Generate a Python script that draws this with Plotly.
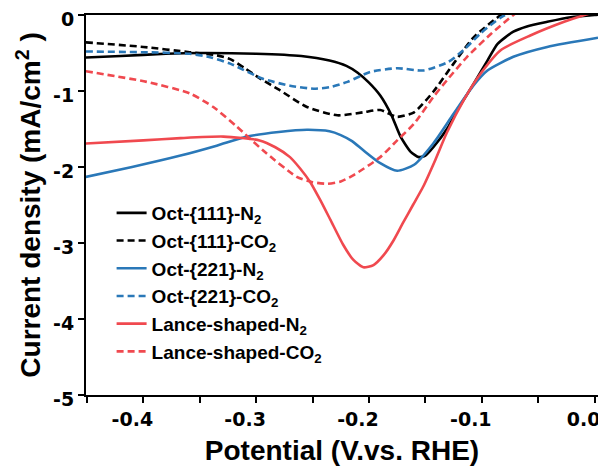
import plotly.graph_objects as go

# ---- data ----
x_oct111_n2 = [-0.451, -0.42, -0.38, -0.35, -0.30, -0.26, -0.235, -0.22, -0.21, -0.20, -0.19, -0.18,
               -0.172, -0.163, -0.156, -0.15, -0.143, -0.13, -0.122, -0.107, -0.095, -0.086,
               -0.072, -0.06, -0.042, -0.021, 0.0, 0.01]
y_oct111_n2 = [-0.56, -0.54, -0.51, -0.50, -0.51, -0.54, -0.60, -0.67, -0.76, -0.89, -1.06, -1.32,
               -1.60, -1.80, -1.87, -1.85, -1.74, -1.48, -1.26, -0.90, -0.60, -0.38,
               -0.22, -0.15, -0.09, -0.03, 0.0, 0.02]

x_oct111_co2 = [-0.451, -0.40, -0.359, -0.335, -0.323, -0.31, -0.296, -0.279, -0.255, -0.228,
                -0.205, -0.190, -0.175, -0.160, -0.143, -0.125, -0.107, -0.083, -0.07]
y_oct111_co2 = [-0.36, -0.42, -0.49, -0.53, -0.58, -0.70, -0.84, -0.99, -1.21, -1.32,
                -1.28, -1.25, -1.34, -1.28, -1.01, -0.64, -0.29, 0.0, 0.1]

x_oct221_n2 = [-0.451, -0.41, -0.367, -0.335, -0.308, -0.28, -0.255, -0.235, -0.225, -0.215,
               -0.205, -0.190, -0.175, -0.160, -0.143, -0.125, -0.107, -0.095, -0.072,
               -0.042, 0.003]
y_oct221_n2 = [-2.13, -2.00, -1.85, -1.72, -1.60, -1.54, -1.51, -1.53, -1.58, -1.66,
               -1.78, -1.95, -2.05, -1.97, -1.69, -1.30, -0.92, -0.73, -0.55,
               -0.42, -0.30]

x_oct221_co2 = [-0.451, -0.40, -0.359, -0.34, -0.323, -0.294, -0.27, -0.249, -0.235, -0.219,
                -0.199, -0.175, -0.152, -0.130, -0.116, -0.101, -0.083, -0.072]
y_oct221_co2 = [-0.48, -0.49, -0.51, -0.56, -0.64, -0.84, -0.93, -0.97, -0.95, -0.88,
                -0.75, -0.70, -0.73, -0.62, -0.46, -0.24, -0.03, 0.05]

x_lance_n2 = [-0.451, -0.40, -0.367, -0.329, -0.297, -0.283, -0.270, -0.261, -0.252, -0.243,
              -0.234, -0.223, -0.214, -0.205, -0.196, -0.187, -0.178, -0.170, -0.161,
              -0.152, -0.141, -0.131, -0.116, -0.101, -0.083, -0.057, -0.027, -0.009, 0.003]
y_lance_n2 = [-1.69, -1.65, -1.62, -1.60, -1.65, -1.74, -1.87, -2.02, -2.20, -2.44,
              -2.70, -3.02, -3.22, -3.32, -3.29, -3.16, -2.96, -2.74, -2.50,
              -2.26, -1.90, -1.55, -1.12, -0.77, -0.46, -0.27, -0.09, 0.0, 0.05]

x_lance_co2 = [-0.451, -0.397, -0.359, -0.338, -0.317, -0.294, -0.264, -0.250, -0.237, -0.225,
               -0.214, -0.190, -0.175, -0.160, -0.143, -0.131, -0.113, -0.092, -0.072, -0.065]
y_lance_co2 = [-0.74, -0.88, -1.03, -1.21, -1.47, -1.78, -2.13, -2.20, -2.22, -2.19,
               -2.11, -1.87, -1.65, -1.43, -1.08, -0.86, -0.55, -0.25, 0.0, 0.08]

x_tickvals = [-0.4, -0.3, -0.2, -0.1, 0.0]
x_ticktext = ["-0.4", "-0.3", "-0.2", "-0.1", "0.0"]
y_tickvals = [0, -1, -2, -3, -4, -5]
y_ticktext = ["0", "-1", "-2", "-3", "-4", "-5"]

BLACK = "#000000"
BLUE = "#2a78b8"
RED = "#f0494f"
FONT = "Arial, Liberation Sans, sans-serif"
TICKFONT = "DejaVu Sans, Arial, sans-serif"

series = [
    ("Oct-{111}-N<sub>2</sub>", x_oct111_n2, y_oct111_n2, BLACK, "solid"),
    ("Oct-{111}-CO<sub>2</sub>", x_oct111_co2, y_oct111_co2, BLACK, "7px,4px"),
    ("Oct-{221}-N<sub>2</sub>", x_oct221_n2, y_oct221_n2, BLUE, "solid"),
    ("Oct-{221}-CO<sub>2</sub>", x_oct221_co2, y_oct221_co2, BLUE, "7px,4px"),
    ("Lance-shaped-N<sub>2</sub>", x_lance_n2, y_lance_n2, RED, "solid"),
    ("Lance-shaped-CO<sub>2</sub>", x_lance_co2, y_lance_co2, RED, "7px,4px"),
]

fig = go.Figure()
for i, (name, xs, ys, col, dash) in enumerate(series):
    fig.add_trace(go.Scatter(
        x=xs, y=ys, mode="lines", name=name, legendgroup=f"g{i}",
        line=dict(color=col, width=2.6, dash=dash, shape="spline", smoothing=0.6),
    ))

# page body adds an 8px offset, so the figure is 598x458 to fill the 606x466 window
fig.update_layout(
    width=598, height=458,
    margin=dict(l=78, r=8, t=7, b=71, autoexpand=False),
    paper_bgcolor="white", plot_bgcolor="white",
    font=dict(family=FONT, color="black"),
    showlegend=True,
    legend=dict(
        x=0.05, y=0.529, xanchor="left", yanchor="top",
        bgcolor="rgba(0,0,0,0)", borderwidth=0,
        font=dict(family=FONT, size=19, color="black", weight="bold"),
        tracegroupgap=0, itemwidth=30,
    ),
)

fig.update_xaxes(
    range=[-0.4508, 0.003], tickvals=x_tickvals, ticktext=x_ticktext, automargin=False,
    ticks="outside", ticklen=6, tickwidth=1.5, tickcolor="black",
    ticklabelshift=-11, ticklabeloverflow="allow",
    minor=dict(dtick=0.05, tick0=0, ticks="outside", ticklen=6, tickwidth=1.5, tickcolor="black"),
    showline=True, linecolor="black", linewidth=2, mirror=True,
    showgrid=False, zeroline=False,
    tickfont=dict(family=TICKFONT, size=19, color="black", weight="bold"),
    title=dict(text="Potential (V.vs. RHE)", standoff=13,
               font=dict(family=FONT, size=28, color="black", weight="bold")),
)
fig.update_yaxes(
    range=[-5, 0], tickvals=y_tickvals, ticktext=y_ticktext, automargin=False,
    ticks="outside", ticklen=6, tickwidth=1.5, tickcolor="black",
    ticklabelshift=4, ticklabeloverflow="allow",
    showline=True, linecolor="black", linewidth=2, mirror=True,
    showgrid=False, zeroline=False,
    tickfont=dict(family=TICKFONT, size=19, color="black", weight="bold"),
    title=dict(text="Current density (mA/cm<sup>2</sup> )", standoff=4,
               font=dict(family=FONT, size=28, color="black", weight="bold")),
)

fig.write_html("out.html")
